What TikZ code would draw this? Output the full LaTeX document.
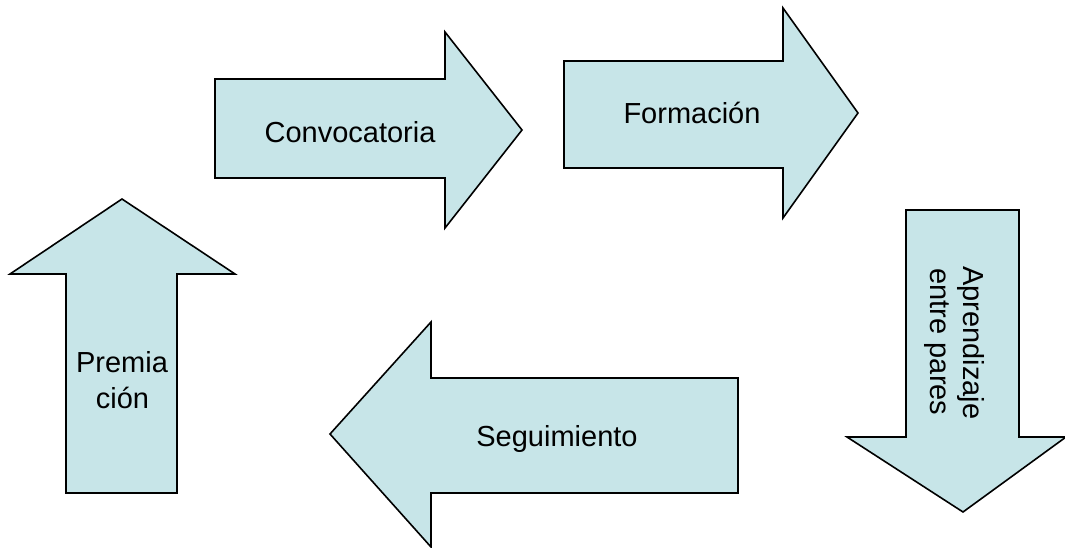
\documentclass[tikz,border=0pt]{standalone}
\usepackage{fontspec}
\setmainfont{Liberation Sans}
\definecolor{arrowfill}{RGB}{199,229,232}
\begin{document}
\begin{tikzpicture}[x=1pt,y=-1pt,
  arrowshape/.style={draw=black,fill=arrowfill,line width=1.6pt,line join=miter},
  lbl/.style={inner sep=0pt,anchor=base,font=\fontsize{29}{35}\selectfont}]
\useasboundingbox (0,0) rectangle (1065,548);
% Convocatoria
\draw[arrowshape] (215,79) -- (445,79) -- (445,32) -- (522,130) -- (445,228) -- (445,178) -- (215,178) -- cycle;
% Formacion
\draw[arrowshape] (564,61) -- (783,61) -- (783,8) -- (858,113) -- (783,218) -- (783,168) -- (564,168) -- cycle;
% Aprendizaje entre pares
\draw[arrowshape] (906,210) -- (1019,210) -- (1019,437) -- (1066,437) -- (963,512) -- (847,437) -- (906,437) -- cycle;
% Seguimiento
\draw[arrowshape] (738,378) -- (738,493) -- (431,493) -- (431,547) -- (330,434) -- (431,322) -- (431,378) -- cycle;
% Premiacion
\draw[arrowshape] (66,493) -- (66,274) -- (10,274) -- (122,199) -- (235,274) -- (177,274) -- (177,493) -- cycle;
% labels
\node[lbl] (conv) at (350,142.5) {Convocatoria};
\node[lbl] (form) at (692,124) {Formación};
\node[lbl] (segu) at (557,446.5) {Seguimiento};
\node[lbl] (prem1) at (122,372) {Premia};
\node[lbl] (prem2) at (122.5,408) {ción};
\node[lbl,rotate=-90] (apr1) at (963,343) {Aprendizaje};
\node[lbl,rotate=-90] (apr2) at (930,342) {entre pares};
\end{tikzpicture}
\end{document}
